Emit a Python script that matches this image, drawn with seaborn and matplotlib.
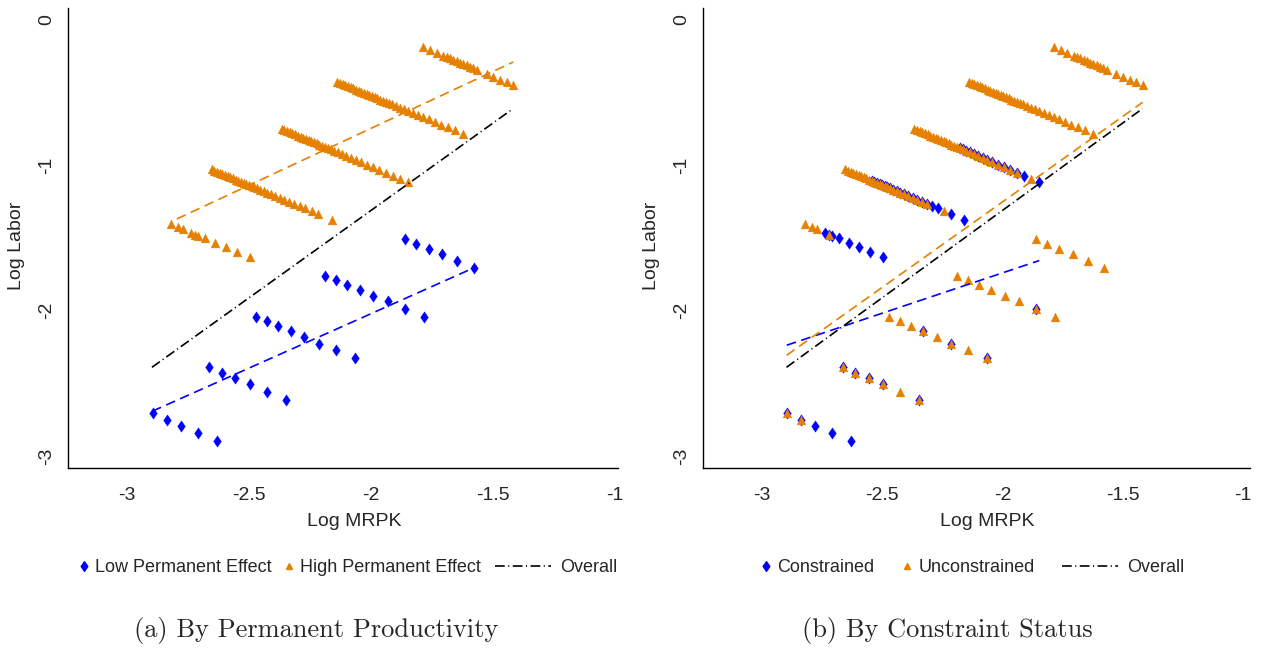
import pandas as pd
import seaborn as sns
import matplotlib.pyplot as plt
from matplotlib.lines import Line2D

# --- Datos (Log MRPK, Log Labor) ---
# Tipo de efecto permanente bajo (5 grupos)
low_mrpk = [-2.895, -2.837, -2.779, -2.709, -2.631,
            -2.664, -2.612, -2.556, -2.495, -2.426, -2.347,
            -2.471, -2.427, -2.380, -2.329, -2.273, -2.213, -2.142, -2.064,
            -2.187, -2.143, -2.097, -2.046, -1.991, -1.930, -1.861, -1.783,
            -1.862, -1.816, -1.764, -1.708, -1.646, -1.578]
low_labor = [-2.703, -2.749, -2.790, -2.841, -2.893,
             -2.387, -2.426, -2.465, -2.506, -2.557, -2.612,
             -2.043, -2.071, -2.105, -2.142, -2.181, -2.227, -2.270, -2.328,
             -1.759, -1.789, -1.823, -1.857, -1.897, -1.936, -1.988, -2.043,
             -1.505, -1.540, -1.574, -1.613, -1.656, -1.707]
# c = restringida, u = no restringida, b = ambas
low_status = list("bbccc" "bbbbub" "uuububub" "uuuuuubu" "uuuuuu")

# Tipo de efecto permanente alto (5 grupos)
high_mrpk = [
    -2.820, -2.790, -2.769, -2.738, -2.721, -2.708, -2.680, -2.639, -2.595, -2.550, -2.496,
    -2.653, -2.642, -2.631, -2.620, -2.609, -2.598, -2.587, -2.577, -2.566, -2.555,
    -2.544, -2.533, -2.522, -2.511, -2.500, -2.489, -2.478, -2.467, -2.454, -2.440,
    -2.426, -2.410, -2.393, -2.374, -2.355, -2.336, -2.314, -2.292, -2.270, -2.243,
    -2.216, -2.161,
    -2.366, -2.355, -2.344, -2.333, -2.322, -2.311, -2.300, -2.289, -2.278, -2.267,
    -2.256, -2.245, -2.234, -2.223, -2.212, -2.201, -2.190, -2.178, -2.165, -2.151,
    -2.136, -2.120, -2.102, -2.083, -2.063, -2.042, -2.018, -1.994, -1.968, -1.940,
    -1.910, -1.880, -1.847,
    -2.141, -2.128, -2.117, -2.106, -2.095, -2.084, -2.073, -2.062, -2.051, -2.040,
    -2.029, -2.018, -2.007, -1.996, -1.985, -1.974, -1.963, -1.952, -1.940, -1.927,
    -1.913, -1.898, -1.882, -1.865, -1.847, -1.828, -1.808, -1.787, -1.764, -1.740,
    -1.714, -1.686, -1.655, -1.622,
    -1.786, -1.758, -1.731, -1.704, -1.690, -1.676, -1.663, -1.649, -1.635, -1.622,
    -1.608, -1.594, -1.581, -1.567, -1.526, -1.499, -1.471, -1.444, -1.417]
high_labor = [
    -1.402, -1.425, -1.436, -1.464, -1.478, -1.487, -1.500, -1.533, -1.562, -1.597, -1.631,
    -1.030, -1.038, -1.045, -1.053, -1.061, -1.069, -1.076, -1.083, -1.091, -1.099,
    -1.106, -1.114, -1.122, -1.130, -1.137, -1.145, -1.153, -1.160, -1.170, -1.179,
    -1.189, -1.200, -1.212, -1.226, -1.239, -1.252, -1.268, -1.283, -1.298, -1.317,
    -1.336, -1.375,
    -0.750, -0.758, -0.766, -0.773, -0.781, -0.789, -0.797, -0.804, -0.812, -0.820,
    -0.828, -0.836, -0.843, -0.851, -0.859, -0.867, -0.874, -0.883, -0.892, -0.902,
    -0.913, -0.924, -0.937, -0.950, -0.964, -0.979, -0.996, -1.013, -1.031, -1.051,
    -1.072, -1.094, -1.117,
    -0.426, -0.435, -0.443, -0.450, -0.458, -0.465, -0.473, -0.481, -0.488, -0.496,
    -0.503, -0.511, -0.518, -0.526, -0.534, -0.541, -0.549, -0.556, -0.565, -0.574,
    -0.583, -0.594, -0.605, -0.616, -0.629, -0.642, -0.656, -0.670, -0.686, -0.703,
    -0.721, -0.740, -0.761, -0.784,
    -0.189, -0.209, -0.228, -0.247, -0.257, -0.267, -0.276, -0.286, -0.296, -0.305,
    -0.315, -0.325, -0.334, -0.344, -0.373, -0.392, -0.412, -0.431, -0.450]
high_status = list("uuucbcccccc"
                   "uuuuuuuuuu" "bbbbbbbbbbbbbbbbb" "ccucc"
                   "uuuuuuuuuuuuuuuuu" "bbbbbbbbbbbbb" "cuc"
                   + "u" * 34 + "u" * 19)

# Rectas de ajuste (extremos)
fit_low_x, fit_low_y = [-2.897, -1.580], [-2.692, -1.707]
fit_high_x, fit_high_y = [-2.796, -1.417], [-1.370, -0.291]
fit_all_x, fit_all_y = [-2.898, -1.418], [-2.390, -0.612]
fit_con_x, fit_con_y = [-2.897, -1.847], [-2.238, -1.656]
fit_unc_x, fit_unc_y = [-2.897, -1.417], [-2.307, -0.568]

x_ticks = [-3, -2.5, -2, -1.5, -1]
x_tick_labels = ['-3', '-2.5', '-2', '-1.5', '-1']
y_ticks = [0, -1, -2, -3]
y_tick_labels = ['0', '-1', '-2', '-3']

BLUE = '#0000ff'
ORANGE = '#e68000'
W, H = 1263, 649
DIAMOND = [(0, 1), (0.68, 0), (0, -1), (-0.68, 0), (0, 1)]

sns.set_style('white')
plt.rcParams['font.family'] = ['Liberation Sans', 'DejaVu Sans']
plt.rcParams['lines.scale_dashes'] = False

df_low = pd.DataFrame({'mrpk': low_mrpk, 'labor': low_labor, 'status': low_status})
df_high = pd.DataFrame({'mrpk': high_mrpk, 'labor': high_labor, 'status': high_status})
df_all = pd.concat([df_low, df_high], ignore_index=True)
df_con = df_all[df_all['status'].isin(['c', 'b'])]
df_unc = df_all[df_all['status'].isin(['u', 'b'])]

fig = plt.figure(figsize=(W / 100, H / 100), dpi=100)
ax1 = fig.add_axes([68 / W, 1 - 468 / H, 550 / W, 460 / H])
ax2 = fig.add_axes([703 / W, 1 - 468 / H, 547 / W, 460 / H])

DASH = (0, (7, 4))
DASHDOT = (0, (7, 2.5, 0.8, 2.5))


def draw_line(ax, xs, ys, color, ls):
    sns.lineplot(x=xs, y=ys, ax=ax, color=color, linestyle=ls, lw=1.2,
                 sort=False, estimator=None, zorder=4)


# Panel (a)
sns.scatterplot(data=df_low, x='mrpk', y='labor', ax=ax1, marker=DIAMOND, s=66,
                color=BLUE, edgecolor=BLUE, linewidth=0.3, zorder=2)
sns.scatterplot(data=df_high, x='mrpk', y='labor', ax=ax1, marker='^', s=40,
                color=ORANGE, edgecolor=ORANGE, linewidth=0.3, zorder=3)
draw_line(ax1, fit_low_x, fit_low_y, BLUE, DASH)
draw_line(ax1, fit_high_x, fit_high_y, ORANGE, DASH)
draw_line(ax1, fit_all_x, fit_all_y, 'black', DASHDOT)

# Panel (b)
sns.scatterplot(data=df_con, x='mrpk', y='labor', ax=ax2, marker=DIAMOND, s=66,
                color=BLUE, edgecolor=BLUE, linewidth=0.3, zorder=2)
sns.scatterplot(data=df_unc, x='mrpk', y='labor', ax=ax2, marker='^', s=40,
                color=ORANGE, edgecolor=ORANGE, linewidth=0.3, zorder=3)
draw_line(ax2, fit_con_x, fit_con_y, BLUE, DASH)
draw_line(ax2, fit_unc_x, fit_unc_y, ORANGE, DASH)
draw_line(ax2, fit_all_x, fit_all_y, 'black', DASHDOT)

legend_labels = [['Low Permanent Effect', 'High Permanent Effect', 'Overall'],
                 ['Constrained', 'Unconstrained', 'Overall']]
# posicion horizontal (px) del inicio de cada clave de leyenda
legend_x = [[79, 284, 495], [761, 902, 1062]]
captions = ['(a) By Permanent Productivity', '(b) By Constraint Status']
xlims = [(-3.242, -0.988), (-3.245, -0.971)]

for i, ax in enumerate([ax1, ax2]):
    ax.set_xlim(*xlims[i])
    ax.set_ylim(-3.082, 0.08)
    ax.set_xticks(x_ticks)
    ax.set_xticklabels(x_tick_labels, fontsize=14)
    ax.set_yticks(y_ticks)
    ax.set_yticklabels(y_tick_labels, fontsize=14, rotation=90, va='center')
    ax.tick_params(axis='both', direction='out', length=6, width=1, color='black')
    ax.tick_params(axis='x', pad=8)
    ax.tick_params(axis='y', pad=3)
    for side in ['top', 'right']:
        ax.spines[side].set_visible(False)
    for side in ['left', 'bottom']:
        ax.spines[side].set_color('black')
        ax.spines[side].set_linewidth(1)
    ax.set_xlabel('Log MRPK', fontsize=14)
    ax.set_ylabel('Log Labor', fontsize=14)
    ax.xaxis.set_label_coords(0.52, -0.097)
    ax.yaxis.set_label_coords(-0.078, 0.483)

    handles = [
        Line2D([], [], marker=DIAMOND, color=BLUE, linestyle='None', markersize=7),
        Line2D([], [], marker='^', color=ORANGE, linestyle='None', markersize=5),
        Line2D([], [], color='black', lw=1.2, linestyle=DASHDOT),
    ]
    for j in range(3):
        is_line = j == 2
        fig.legend([handles[j]], [legend_labels[i][j]], loc='center left',
                   bbox_to_anchor=(legend_x[i][j] / W, 1 - 568 / H),
                   frameon=False, fontsize=13, borderpad=0, borderaxespad=0,
                   handlelength=3.1 if is_line else 0.6,
                   handletextpad=0.5 if is_line else 0.3)

fig.text(0.25, 1 - 630 / H, captions[0], ha='center', va='center',
         fontsize=19, family='cmr10')
fig.text(0.75, 1 - 630 / H, captions[1], ha='center', va='center',
         fontsize=19, family='cmr10')

plt.savefig('out.png', dpi=100)
